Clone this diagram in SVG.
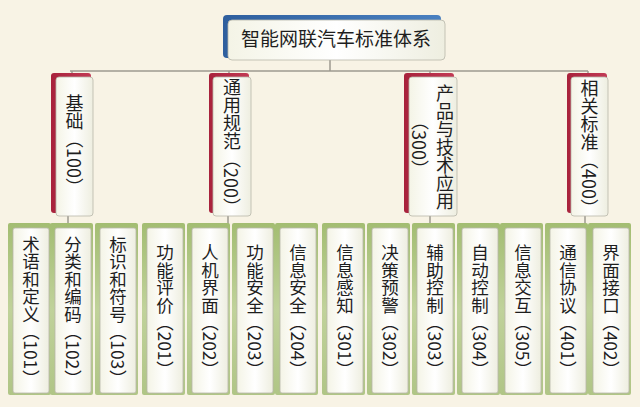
<svg xmlns="http://www.w3.org/2000/svg" width="640" height="407" viewBox="0 0 640 407">
<defs>
<linearGradient id="gBlue" x1="0" y1="0" x2="1" y2="0"><stop offset="0" stop-color="#2f5f9e"/><stop offset="1" stop-color="#4a80c0"/></linearGradient>
<linearGradient id="gRed" x1="0" y1="0" x2="1" y2="0"><stop offset="0" stop-color="#a8223c"/><stop offset="1" stop-color="#c23a55"/></linearGradient>
<linearGradient id="gGreen" x1="0" y1="0" x2="0" y2="1"><stop offset="0" stop-color="#a3bd72"/><stop offset="0.5" stop-color="#c0d29a"/><stop offset="1" stop-color="#b0c586"/></linearGradient>
<linearGradient id="gWhite" x1="0" y1="0" x2="1" y2="0"><stop offset="0" stop-color="#f4f4e6"/><stop offset="0.5" stop-color="#ffffff"/><stop offset="1" stop-color="#eeeee0"/></linearGradient>
<style>
.t{font-family:"Noto Sans CJK SC","Noto Sans CJK JP",sans-serif;fill:#1e1e1e}
.v{writing-mode:vertical-rl;text-orientation:mixed;text-anchor:middle}
.l2{font-size:18px}
.lf{font-size:17.5px}
.con{stroke:#9d9a90;stroke-width:1.5;fill:none}
.wbox{fill:url(#gWhite);stroke:#b8b6aa;stroke-width:0.8}
.green{fill:url(#gGreen)}
.red{fill:url(#gRed)}
</style>
</defs>
<rect width="640" height="407" fill="#f8f3e5"/>
<g id="connectors">
<path class="con" d="M330 60V71M70 71H588M72 71V75M229 71V75M430 71V75M588 71V75"/>
<path class="con" d="M68 216V224M228 216V224M430 216V224M585 216V224"/>
</g>
<g id="root">
<rect x="223" y="15" width="218" height="43" rx="4" fill="url(#gBlue)"/>
<rect x="228" y="20" width="217" height="40" rx="4" fill="url(#gWhite)" stroke="#b8b6aa" stroke-width="0.8"/>
<text class="t" x="336" y="46" font-size="19" text-anchor="middle">智能网联汽车标准体系</text>
</g>
<g id="n100">
<rect class="red" x="51" y="73" width="40" height="140" rx="3"/>
<rect class="wbox" x="56" y="77" width="37" height="139" rx="3"/>
<text class="t v l2" x="74.5" y="145">基础（100）</text>
</g>
<g id="n200">
<rect class="red" x="209" y="73" width="40" height="140" rx="3"/>
<rect class="wbox" x="213" y="77" width="38" height="139" rx="3"/>
<text class="t v l2" x="232" y="147">通用规范（200）</text>
</g>
<g id="n300">
<rect class="red" x="404" y="73" width="50" height="140" rx="3"/>
<rect class="wbox" x="409" y="77" width="48" height="139" rx="3"/>
<text class="t v l2" x="445" y="147">产品与技术应用</text>
<text class="t v l2" x="420" y="145">（300）</text>
</g>
<g id="n400">
<rect class="red" x="567" y="73" width="40" height="140" rx="3"/>
<rect class="wbox" x="571" y="77" width="37" height="139" rx="3"/>
<text class="t v l2" x="589.5" y="148">相关标准（400）</text>
</g>
<g id="n101"><rect class="green" x="8" y="223" width="43" height="172" rx="2"/><rect class="wbox" x="13" y="228" width="36" height="165" rx="2"/><text class="t v lf" x="31" y="311">术语和定义（101）</text></g>
<g id="n102"><rect class="green" x="50" y="223" width="43" height="172" rx="2"/><rect class="wbox" x="55" y="228" width="36" height="165" rx="2"/><text class="t v lf" x="73" y="311">分类和编码（102）</text></g>
<g id="n103"><rect class="green" x="95" y="223" width="43" height="172" rx="2"/><rect class="wbox" x="100" y="228" width="36" height="165" rx="2"/><text class="t v lf" x="118" y="311">标识和符号（103）</text></g>
<g id="n201"><rect class="green" x="142" y="223" width="43" height="172" rx="2"/><rect class="wbox" x="147" y="228" width="36" height="165" rx="2"/><text class="t v lf" x="165" y="311">功能评价（201）</text></g>
<g id="n202"><rect class="green" x="187" y="223" width="43" height="172" rx="2"/><rect class="wbox" x="192" y="228" width="36" height="165" rx="2"/><text class="t v lf" x="210" y="311">人机界面（202）</text></g>
<g id="n203"><rect class="green" x="232" y="223" width="43" height="172" rx="2"/><rect class="wbox" x="237" y="228" width="36" height="165" rx="2"/><text class="t v lf" x="255" y="311">功能安全（203）</text></g>
<g id="n204"><rect class="green" x="275" y="223" width="43" height="172" rx="2"/><rect class="wbox" x="280" y="228" width="36" height="165" rx="2"/><text class="t v lf" x="298" y="311">信息安全（204）</text></g>
<g id="n301"><rect class="green" x="322" y="223" width="43" height="172" rx="2"/><rect class="wbox" x="327" y="228" width="36" height="165" rx="2"/><text class="t v lf" x="345" y="311">信息感知（301）</text></g>
<g id="n302"><rect class="green" x="367" y="223" width="43" height="172" rx="2"/><rect class="wbox" x="372" y="228" width="36" height="165" rx="2"/><text class="t v lf" x="390" y="311">决策预警（302）</text></g>
<g id="n303"><rect class="green" x="412" y="223" width="43" height="172" rx="2"/><rect class="wbox" x="417" y="228" width="36" height="165" rx="2"/><text class="t v lf" x="435" y="311">辅助控制（303）</text></g>
<g id="n304"><rect class="green" x="457" y="223" width="43" height="172" rx="2"/><rect class="wbox" x="462" y="228" width="36" height="165" rx="2"/><text class="t v lf" x="480" y="311">自动控制（304）</text></g>
<g id="n305"><rect class="green" x="500" y="223" width="43" height="172" rx="2"/><rect class="wbox" x="505" y="228" width="36" height="165" rx="2"/><text class="t v lf" x="523" y="311">信息交互（305）</text></g>
<g id="n401"><rect class="green" x="545" y="223" width="43" height="172" rx="2"/><rect class="wbox" x="550" y="228" width="36" height="165" rx="2"/><text class="t v lf" x="568" y="311">通信协议（401）</text></g>
<g id="n402"><rect class="green" x="588" y="223" width="43" height="172" rx="2"/><rect class="wbox" x="593" y="228" width="36" height="165" rx="2"/><text class="t v lf" x="611" y="311">界面接口（402）</text></g>
</svg>
